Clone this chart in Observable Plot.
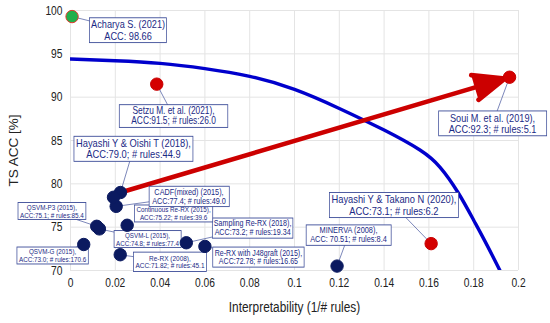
<!DOCTYPE html>
<html>
<head>
<meta charset="utf-8">
<script src="https://cdn.jsdelivr.net/npm/d3@7"></script>
<script src="https://cdn.jsdelivr.net/npm/@observablehq/plot@0.6"></script>
<style>
  body { margin: 0; background: #fff; }
  #chart { width: 550px; height: 323px; }
</style>
</head>
<body>
<div id="chart"></div>
<script>
// ---- data ----
const names = [
  "Acharya S. (2021)", "Setzu M. et al. (2021)", "Soui M. et al. (2019)",
  "Hayashi Y & Takano N (2020)", "MINERVA (2008)", "Re-RX with J48graft (2015)",
  "Sampling Re-RX (2018)", "Re-RX (2008)", "Continuous Re-RX (2015)",
  "QSVM-L (2015)", "QSVM-P3 (2015)", "QSVM-G (2015)", "CADF(mixed) (2015)",
  "Hayashi Y & Oishi T (2018)", "unlabeled"
];
const interp = [0.0007, 0.0385, 0.196, 0.161, 0.119, 0.060, 0.0517, 0.0222, 0.0253, 0.0129, 0.0117, 0.0059, 0.0204, 0.0223, 0.0192];
const acc    = [99.3, 91.5, 92.3, 73.1, 70.51, 72.78, 73.2, 71.82, 75.22, 74.8, 75.1, 73.0, 77.4, 79.0, 78.45];
const groups = ["best", "recent", "recent", "recent", "older", "older", "older", "older", "older", "older", "older", "older", "older", "older", "older"];
const labelTexts = [
  "Acharya S. (2021)\nACC: 98.66",
  "Setzu M. et al. (2021),\nACC:91.5; # rules:26.0",
  "Soui M. et al. (2019),\nACC:92.3; # rules:5.1",
  "Hayashi Y & Takano N (2020),\nACC:73.1; # rules:6.2",
  "MINERVA (2008),\nACC: 70.51; # rules:8.4",
  "Re-RX with J48graft (2015),\nACC:72.78; # rules:16.65",
  "Sampling Re-RX (2018),\nACC:73.2; # rules:19.34",
  "Re-RX (2008),\nACC:71.82; # rules:45.1",
  "Continuous Re-RX (2015),\nACC:75.22; # rules:39.6",
  "QSVM-L (2015),\nACC:74.8; # rules:77.4",
  "QSVM-P3 (2015),\nACC:75.1; # rules:85.4",
  "QSVM-G (2015),\nACC:73.0; # rules:170.6",
  "CADF(mixed) (2015),\nACC:77.4; # rules:49.0",
  "Hayashi Y & Oishi T (2018),\nACC:79.0; # rules:44.9",
  null
];
// efficient frontier (blue curve) points
const frontierX = [0, 0.02, 0.04, 0.06, 0.08, 0.10, 0.12, 0.14, 0.156, 0.165, 0.173, 0.180, 0.186, 0.1925];
const frontierY = [94.4, 94.2, 93.9, 93.3, 92.4, 90.9, 88.7, 86.2, 83.9, 81.9, 79.0, 75.8, 72.9, 69.6];
// improvement arrow
const arrowFrom = "Hayashi Y & Oishi T (2018)";
const arrowTo = "Soui M. et al. (2019)";
// ticks
const xTicks = [0, 0.02, 0.04, 0.06, 0.08, 0.1, 0.12, 0.14, 0.16, 0.18, 0.2];
const xTickLabels = ["0", "0.02", "0.04", "0.06", "0.08", "0.1", "0.12", "0.14", "0.16", "0.18", "0.2"];
const yTicks = [70, 75, 80, 85, 90, 95, 100];
const yTickLabels = ["70", "75", "80", "85", "90", "95", "100"];
const xTitle = "Interpretability (1/# rules)";
const yTitle = "TS ACC [%]";

// ---- annotation layout (label anchors in data units) ----
const labelX = [0.0257, 0.046, 0.1884, 0.1444, 0.1241, 0.0839, 0.0813, 0.0444, 0.046, 0.0344, -0.0083, -0.008, 0.0529, 0.0281, null];
const labelY = [97.70, 87.82, 86.95, 77.53, 74.1, 71.55, 74.9, 70.98, 76.55, 73.6, 76.84, 71.7, 78.56, 84.02, null];
const labelSize = [11.2, 10.2, 11.2, 11.4, 9.0, 8.6, 8.7, 7.9, 7.7, 7.6, 7.7, 7.7, 8.9, 11.4, 0];
const labelPadX = [1.5, 12, 10, 2, 4, 2, 1.5, 2, 2, 2, 2, 2, 3, 2, 0];
const hasLeader = [true, true, true, true, true, true, true, true, false, true, true, true, true, true, false];
const squeeze = 0.82; // horizontal text compression seen in the reference

const colorOf = {best: "#22b04b", recent: "#d40000", older: "#0b1a60"};
const ringOf = {best: "#e23a2e", recent: "#c80000", older: "#0b1a60"};

const points = names.map((n, i) => ({
  name: n, x: interp[i], y: acc[i], group: groups[i],
  label: labelTexts[i], lx: labelX[i], ly: labelY[i],
  size: labelSize[i], padX: labelPadX[i], leader: hasLeader[i]
}));
const labeled = points.filter(d => d.label);
const frontier = frontierX.map((x, i) => ({x, y: frontierY[i]}));
const a = points.find(d => d.name === arrowFrom);
const b = points.find(d => d.name === arrowTo);
const arrows = [{x1: a.x, y1: a.y, x2: b.x, y2: b.y}];

const font = "'Liberation Sans',Arial,sans-serif";

const chart = Plot.plot({
  width: 550,
  height: 323,
  marginLeft: 70,
  marginRight: 32,
  marginTop: 10,
  marginBottom: 53,
  style: {fontFamily: font, fontSize: "12.5px", color: "#222", background: "#fff"},
  x: {domain: [0, 0.2], ticks: xTicks, tickFormat: d => xTickLabels[xTicks.indexOf(d)], tickSize: 0, tickPadding: 8, label: null},
  y: {domain: [70, 100], ticks: yTicks, tickFormat: d => yTickLabels[yTicks.indexOf(d)], tickSize: 0, tickPadding: 8, label: null},
  marks: [
    Plot.ruleX(xTicks, {stroke: "#e4e4e4", strokeWidth: 1}),
    Plot.ruleY(yTicks, {stroke: "#e4e4e4", strokeWidth: 1}),
    Plot.line(frontier, {x: "x", y: "y", stroke: "#0000cc", strokeWidth: 3.4, curve: "natural", clip: true}),
    Plot.arrow(arrows, {x1: "x1", y1: "y1", x2: "x2", y2: "y2", stroke: "#cc0000", fill: "#cc0000", strokeWidth: 4.6, headLength: 11, headAngle: 45, insetEnd: 5, ariaDescription: "arrow"}),
    Plot.link(labeled.filter(d => d.leader), {x1: "x", y1: "y", x2: "lx", y2: "ly", stroke: "#5a68a8", strokeWidth: 0.8}),
    Plot.text(labeled, {x: "lx", y: "ly", text: "label", fontSize: d => d.size, lineHeight: 1.0, fill: "#1b2a85", textAnchor: "middle", lineAnchor: "middle", ariaDescription: "labels"}),
    Plot.dot(points, {x: "x", y: "y", r: 6.2, fill: d => colorOf[d.group], stroke: d => ringOf[d.group], strokeWidth: 1}),
    Plot.text([xTitle], {frameAnchor: "bottom", dy: 37, fontSize: 14.5, fill: "#222", textAnchor: "middle", lineAnchor: "middle", ariaDescription: "xtitle"}),
    Plot.text([yTitle], {frameAnchor: "left", rotate: -90, dx: -57, dy: 10, fontSize: 13.5, fill: "#222", textAnchor: "middle", lineAnchor: "middle", ariaDescription: "ytitle"})
  ]
});

document.getElementById("chart").appendChild(chart);

// filled arrowhead, as in the reference
const ag = chart.querySelector('g[aria-description="arrow"]');
if (ag) ag.querySelectorAll("path").forEach(p => { p.setAttribute("fill", "#cc0000"); p.setAttribute("stroke-linejoin", "miter"); });

// compress texts horizontally (the reference uses a narrow face)
chart.querySelectorAll("text").forEach(t => {
  if (t.closest('g[aria-description="ytitle"]')) return;
  let x = parseFloat(t.getAttribute("x"));
  if (!isFinite(x) || /em|%/.test(t.getAttribute("x") || "")) x = 0;
  const tr = t.getAttribute("transform") || "";
  t.setAttribute("transform", `${tr} translate(${x},0) scale(${squeeze},1) translate(${-x},0)`.trim());
});

// draw white framed boxes behind the annotation texts
const g = chart.querySelector('g[aria-description="labels"]');
if (g) {
  const texts = Array.from(g.querySelectorAll("text"));
  texts.forEach((t, i) => {
    const d = labeled[i];
    const bb = t.getBBox();
    const px = d ? d.padX / squeeze : 2, py = 0.8;
    const r = document.createElementNS("http://www.w3.org/2000/svg", "rect");
    r.setAttribute("x", bb.x - px);
    r.setAttribute("y", bb.y - py);
    r.setAttribute("width", bb.width + 2 * px);
    r.setAttribute("height", bb.height + 2 * py);
    r.setAttribute("fill", "#fff");
    r.setAttribute("stroke", "#3c4c98");
    r.setAttribute("stroke-width", "0.9");
    if (t.getAttribute("transform")) r.setAttribute("transform", t.getAttribute("transform"));
    t.parentNode.insertBefore(r, t);
  });
}
</script>
</body>
</html>
